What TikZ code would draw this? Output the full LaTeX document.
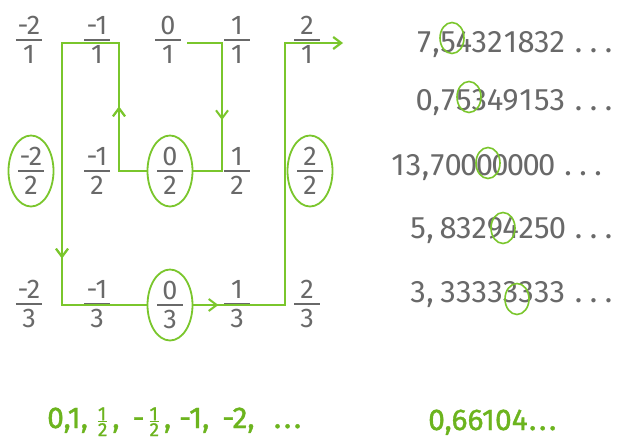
\documentclass[tikz,border=0pt]{standalone}
\usepackage{fontspec}
\setmainfont{Fira Sans}
\newfontfamily\gfont{Fira Sans}[FakeBold=1.2]
\usetikzlibrary{arrows.meta,shapes.geometric,decorations.markings}
\definecolor{lgreen}{RGB}{122,198,44}
\definecolor{tgreen}{RGB}{108,180,30}
\definecolor{tgray}{RGB}{105,105,105}
\newcommand\fr[2]{$\vcenter{\hbox to 26pt{\hss#1\hss}\kern4.5pt\hrule height 1.8pt\kern4.5pt\hbox to 26pt{\hss#2\hss}}$}
\newcommand\sfr[2]{$\vcenter{\fontsize{19}{21}\selectfont\hbox{#1}\kern1pt\hrule height 1pt\kern1pt\hbox{#2}}$}
\makeatletter
\newcommand\dgs[1]{\@tfor\dd:=#1\do{\hbox to 15.6pt{\hss\dd\hss}}}
\makeatother
\newcommand\cma{\hbox to 8.4pt{\hss,\hss}}
\newcommand\dts{\kern6pt\hbox to 15pt{\hss.\hss}\hbox to 15pt{\hss.\hss}\hbox to 15pt{\hss.\hss}}
\newcommand\gdts{\hbox to 10pt{\hss.\hss}\hbox to 10pt{\hss.\hss}\hbox to 10pt{\hss.\hss}}
\tikzset{chev/.tip={Straight Barb[length=8pt,width=12pt]}}
\begin{document}
\begin{tikzpicture}[x=1pt,y=-1pt,
  fr/.style={inner sep=0pt, text=tgray, font=\fontsize{27}{30}\selectfont},
  ov/.style={fr, ellipse, draw=lgreen, line width=1.8pt, minimum width=45pt, minimum height=71pt},
  gl/.style={color=lgreen, line width=2.2pt, line join=miter},
  marrow/.style={postaction={decorate}, decoration={markings, mark=at position #1 with {\arrow[line width=2pt]{chev}}}},
  num/.style={inner sep=0pt, text=tgray, font=\fontsize{31}{34}\selectfont, anchor=base west},
  dc/.style={ellipse, draw=lgreen, line width=1.6pt, minimum width=24pt, minimum height=31pt, inner sep=0pt},
  gtxt/.style={inner sep=0pt, text=tgreen, font=\gfont\fontsize{30}{34}\selectfont, anchor=base west}
]
\fill[white] (0,0) rectangle (621,442);
\useasboundingbox (0,0) rectangle (621,442);

% fraction grid
\node[fr] (f1a) at (29,40) {\fr{-2}{1}};
\node[fr] (f1b) at (97,40) {\fr{-1}{1}};
\node[fr] (f1c) at (168,40) {\fr{0}{1}};
\node[fr] (f1d) at (237,40) {\fr{1}{1}};
\node[fr] (f1e) at (307,40) {\fr{2}{1}};

\node[ov] (f2a) at (31,171) {\fr{-2}{2}};
\node[fr] (f2b) at (97,171) {\fr{-1}{2}};
\node[ov] (f2c) at (170,171) {\fr{0}{2}};
\node[fr] (f2d) at (237,171) {\fr{1}{2}};
\node[ov] (f2e) at (310,171) {\fr{2}{2}};

\node[fr] (f3a) at (29,304) {\fr{-2}{3}};
\node[fr] (f3b) at (97,304) {\fr{-1}{3}};
\node[ov] (f3c) at (170,305) {\fr{0}{3}};
\node[fr] (f3d) at (237,304) {\fr{1}{3}};
\node[fr] (f3e) at (307,304) {\fr{2}{3}};

% path coordinates
\coordinate (s0) at (187,43);
\coordinate (a1) at (222,43);
\coordinate (a2) at (222,171);
\coordinate (b1) at (119,171);
\coordinate (b2) at (119,43);
\coordinate (l1) at (62,43);
\coordinate (c1) at (285,305);
\coordinate (c2) at (285,43);
\coordinate (e1) at (343,43);

\draw[gl, marrow=112pt] (s0) -- (a1) -- (a2) -- (f2c.east);
\draw[gl, marrow=92pt, marrow=428pt] (f2c.west) -- (b1) -- (b2) -- (l1) |- (f3c.west);
\draw[gl, marrow=25pt, -chev] (f3c.east) -- (c1) -- (c2) -- (e1);

% decimal expansions
\node[num] (r1) at (416.2,52) {\dgs{7}\cma\dgs{54321832}\dts};
\node[num] (r2) at (416.2,110) {\dgs{0}\cma\dgs{75349153}\dts};
\node[num] (r3) at (390,175) {\dgs{13}\cma\dgs{70000000}\dts};
\node[num] (r4) at (410.2,238) {\dgs{5}\cma\kern6pt\dgs{83294250}\dts};
\node[num] (r5) at (410.2,302) {\dgs{3}\cma\kern6pt\dgs{33333333}\dts};

\node[dc] (k1) at (452,38) {};
\node[dc] (k2) at (469,97) {};
\node[dc] (k3) at (488,163) {};
\node[dc] (k4) at (503,228) {};
\node[dc] (k5) at (517,299) {};

% bottom texts
\node[gtxt] (g1) at (47,428) {0,1,\,\,\sfr{1}{2}\,,\, -\,\sfr{1}{2}\,, -1,\, -2,\,\, \gdts};
\node[gtxt] (g2) at (428,430) {0,66104\gdts};
\end{tikzpicture}
\end{document}
